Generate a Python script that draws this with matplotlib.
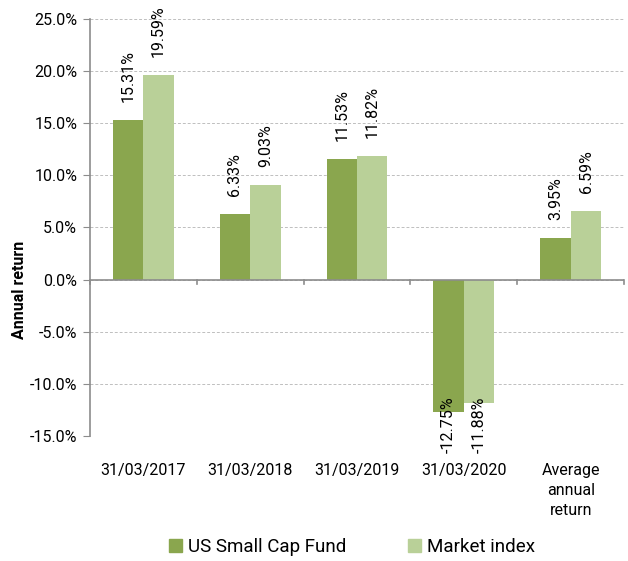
import numpy as np
import matplotlib.pyplot as plt
from matplotlib.transforms import blended_transform_factory
from matplotlib.patches import Patch

plt.rcParams['font.family'] = ['Roboto', 'DejaVu Sans']

categories = ['31/03/2017', '31/03/2018', '31/03/2019', '31/03/2020', 'Average\nannual\nreturn']
fund = [15.31, 6.33, 11.53, -12.75, 3.95]
index = [19.59, 9.03, 11.82, -11.88, 6.59]
series_names = ['US Small Cap Fund', 'Market index']
colors = ['#8aa64e', '#b9d098']

fig = plt.figure(figsize=(6.28, 5.61), dpi=100)
ax = fig.add_axes([0.143, 0.223, 0.851, 0.743])

x = np.arange(len(categories))
w = 0.285
ax.bar(x - w, fund, w, align='edge', color=colors[0], zorder=3)
ax.bar(x, index, w, align='edge', color=colors[1], zorder=3)

ax.set_xlim(-0.5, len(categories) - 0.5)
ax.set_ylim(-15, 25)
ax.set_yticks(np.arange(-15, 26, 5))
ax.set_yticklabels([f'{v:.1f}%' for v in np.arange(-15, 26, 5)], fontsize=11.5)
ax.tick_params(axis='y', direction='out', length=5, color='#8c8c8c', pad=4)
ax.grid(axis='y', linestyle=(0, (3, 2)), color='#bfbfbf', linewidth=0.7, zorder=0)
ax.set_xticks([])

for s in ['top', 'right', 'bottom']:
    ax.spines[s].set_visible(False)
ax.spines['left'].set_color('#8c8c8c')
ax.spines['left'].set_linewidth(1.2)

# zero line with category boundary ticks
ax.axhline(0, color='#8c8c8c', linewidth=1.2, zorder=4)
for b in np.arange(-0.5, len(categories), 1.0):
    ax.plot([b, b], [0, -0.45], color='#8c8c8c', linewidth=1.2, zorder=4, clip_on=False)

# category labels below the plot area
trans = blended_transform_factory(ax.transData, ax.transAxes)
for xi, lab in zip(x, categories):
    ax.text(xi, -0.065, lab, transform=trans, ha='center', va='top',
            fontsize=11.5, linespacing=1.4)

# data labels
for offs, vals in [(-w / 2, fund), (w / 2, index)]:
    for xi, v in zip(x, vals):
        if v >= 0:
            ax.annotate(f'{v:.2f}%', (xi + offs, v), xytext=(0, 13),
                        textcoords='offset points', rotation=90,
                        ha='center', va='bottom', fontsize=11.5)
        else:
            ax.text(xi + offs, -11.2, f'{v:.2f}%', rotation=90,
                    ha='center', va='top', fontsize=11.5, zorder=5)

ax.set_ylabel('Annual return', fontsize=11.5, fontweight='bold')
ax.yaxis.set_label_coords(-0.117, 0.35)

handles = [Patch(color=c) for c in colors]
fig.legend(handles, series_names, loc='lower center', bbox_to_anchor=(0.56, -0.022),
           ncol=2, frameon=False, fontsize=13.5, handlelength=0.7, handleheight=0.7,
           handletextpad=0.3, columnspacing=3.3)

fig.savefig('out.png', dpi=100)
